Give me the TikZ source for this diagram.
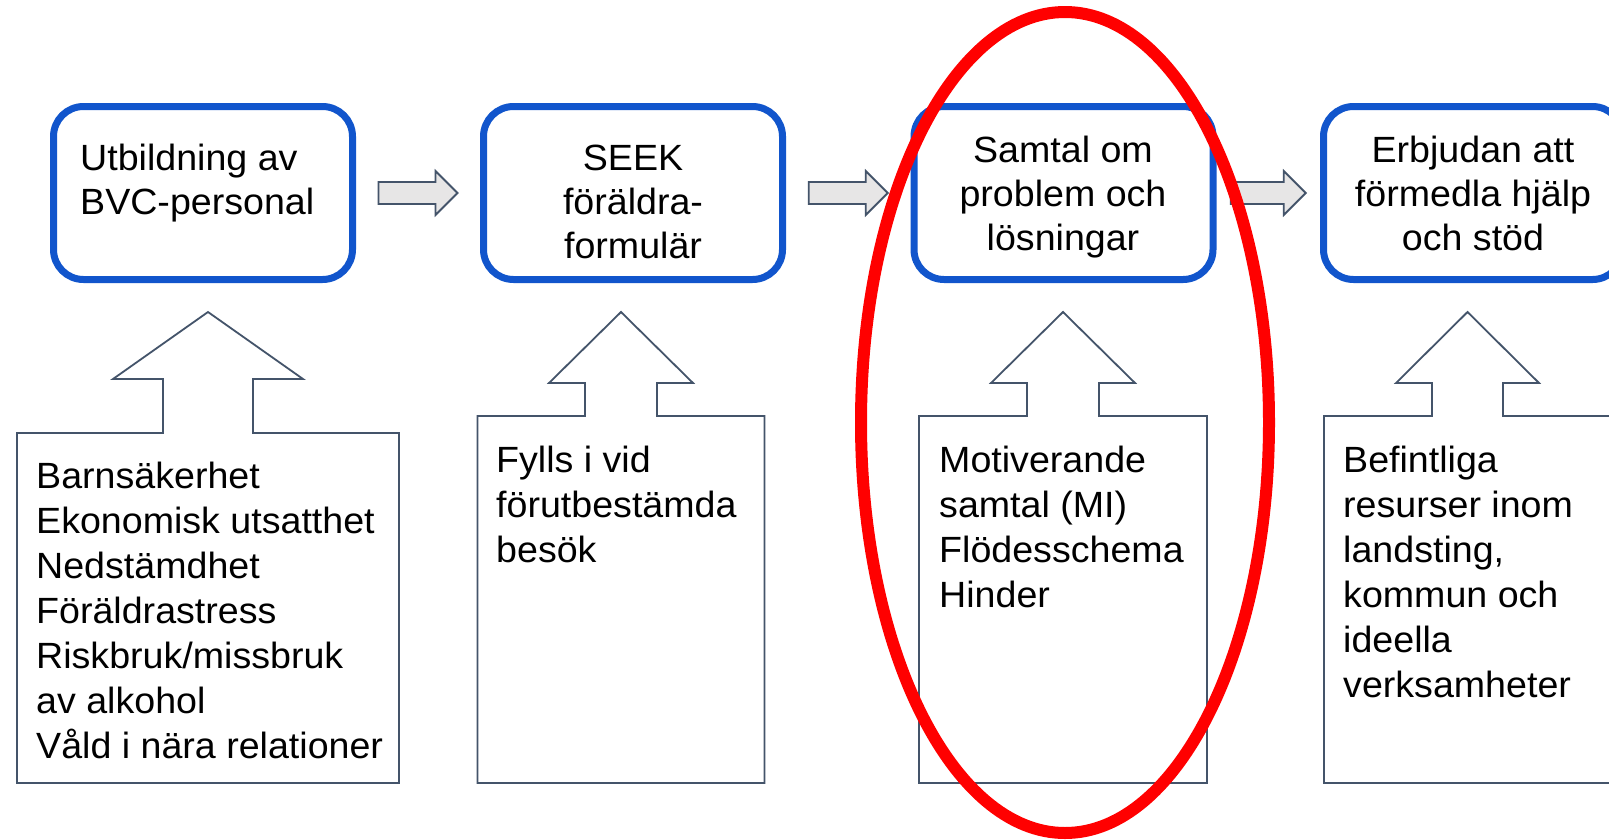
\documentclass[tikz,border=0pt]{standalone}
\usepackage{fontspec}
\setmainfont{Liberation Sans}[FakeStretch=1.03]
\usetikzlibrary{calc}
\definecolor{boxblue}{HTML}{1155CC}
\definecolor{slate}{HTML}{44546A}
\definecolor{arrowgray}{HTML}{E7E6E6}
\tikzset{
  topbox/.style={draw=boxblue, line width=7pt, rounded corners=30pt, minimum width=299pt, minimum height=173pt, inner sep=0pt},
  toptext/.style={inner sep=0pt, font=\fontsize{36.5}{44}\selectfont},
  lowtext/.style={inner sep=0pt, align=left, anchor=north west, font=\fontsize{36.5}{45}\selectfont},
  callout/.style={draw=slate, line width=1.8pt, line join=miter, fill=white},
  barrow/.style={draw=slate, line width=1.8pt, line join=miter, fill=arrowgray},
  ring/.style={draw=red, line width=12pt},
  pics/blockarrow/.style={code={
    \draw[barrow] (-#1/2,-11) -- (#1/2-22,-11) -- (#1/2-22,-22) -- (#1/2,0)
      -- (#1/2-22,22) -- (#1/2-22,11) -- (-#1/2,11) -- cycle;}}
}
\begin{document}
\begin{tikzpicture}[x=1pt,y=-1pt]
\useasboundingbox (0,0) rectangle (1609,839);
\fill[white] (0,0) rectangle (1609,839);

% top boxes
\node[topbox] (b1) at (203,193) {};
\node[topbox] (b2) at (633,193) {};
\node[topbox] (b3) at (1063.5,193) {};
\node[topbox] (b4) at (1473,193) {};

% block arrows between boxes
\pic at ($(b1.east)!0.5!(b2.west)$) {blockarrow=79};
\pic at ($(b2.east)!0.5!(b3.west)$) {blockarrow=79};
\pic at ($(b3.east)!0.5!(b4.west)$) {blockarrow=75};

% up-arrow callouts
\draw[callout] (17,783) -- (17,433) -- (163,433) -- (163,379) -- (113,379) -- (208,312)
  -- (303,379) -- (253,379) -- (253,433) -- (399,433) -- (399,783) -- cycle;
\draw[callout] (477.5,783) -- (477.5,416) -- (585,416) -- (585,383) -- (549,383) -- (621,312)
  -- (693,383) -- (657,383) -- (657,416) -- (764.5,416) -- (764.5,783) -- cycle;
\draw[callout] (919,783) -- (919,416) -- (1027,416) -- (1027,383) -- (991,383) -- (1063,312)
  -- (1135,383) -- (1099,383) -- (1099,416) -- (1207,416) -- (1207,783) -- cycle;
\draw[callout] (1324,783) -- (1324,416) -- (1432,416) -- (1432,383) -- (1396,383) -- (1467.5,312)
  -- (1539,383) -- (1503,383) -- (1503,416) -- (1611,416) -- (1611,783) -- cycle;

% texts in top boxes
\node[toptext, align=left, anchor=north west] (t1) at (80,139.2) {\strut Utbildning av\\BVC-personal};
\node[toptext, align=center, anchor=north] (t2) at (633,139.2) {\strut SEEK\\föräldra-\\formulär};
\node[toptext, align=center, anchor=north] (t3) at (1063,131.2) {\strut Samtal om\\problem och\\lösningar};
\node[toptext, align=center, anchor=north] (t4) at (1473,131.2) {\strut Erbjudan att\\förmedla hjälp\\och stöd};

% texts in callouts
\node[lowtext] (l1) at (36,456.5) {\strut Barnsäkerhet\\Ekonomisk utsatthet\\Nedstämdhet\\Föräldrastress\\Riskbruk/missbruk\\av alkohol\\Våld i nära relationer};
\node[lowtext] (l2) at (496,440.5) {\strut Fylls i vid\\förutbestämda\\besök};
\node[lowtext] (l3) at (939,440.5) {\strut Motiverande\\samtal (MI)\\Flödesschema\\Hinder};
\node[lowtext] (l4) at (1343,440.5) {\strut Befintliga\\resurser inom\\landsting,\\kommun och\\ideella\\verksamheter};

% red ellipse highlight
\draw[ring] (1065,422.5) ellipse [x radius=204, y radius=410.5];
\end{tikzpicture}
\end{document}
